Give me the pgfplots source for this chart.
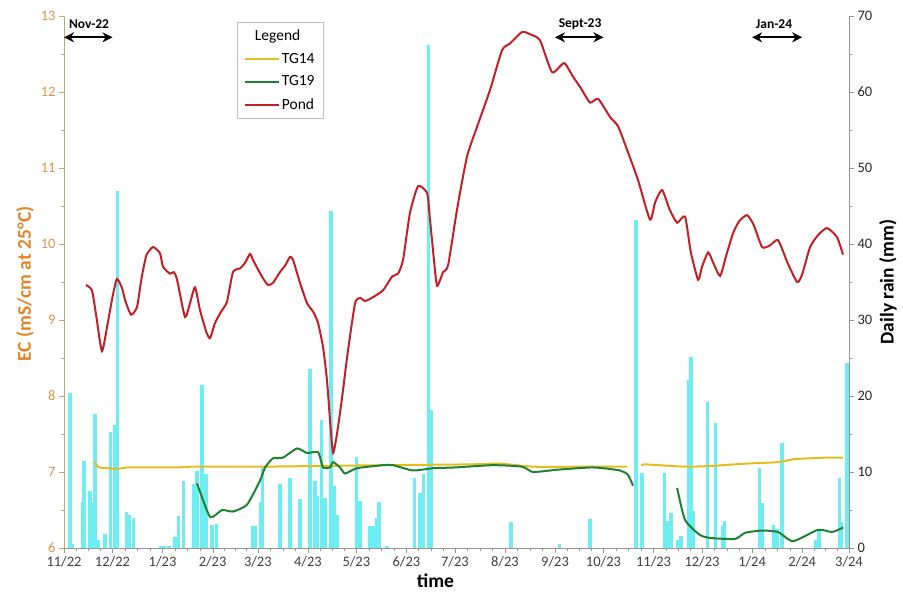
\documentclass[border=0pt]{standalone}
\usepackage{fontspec}
\setmainfont{Carlito}
\usepackage{pgfplots}
\pgfplotsset{compat=1.18}
\usetikzlibrary{arrows.meta}

\definecolor{rain}{RGB}{85,235,240}
\definecolor{tgyellow}{RGB}{228,190,30}
\definecolor{tggreen}{RGB}{30,130,50}
\definecolor{pondred}{RGB}{192,32,40}
\definecolor{ecorange}{RGB}{226,132,40}
\definecolor{ectick}{RGB}{214,148,80}
\definecolor{ecaxis}{RGB}{200,165,120}
\definecolor{axgray}{RGB}{150,150,150}

\pgfplotsset{
  common/.style={
    scale only axis, width=785pt, height=532pt,
    xmin=0, xmax=486,
    tick align=outside, major tick length=5pt, minor tick length=3pt,
    /pgf/number format/assume math mode=true,
    ticklabel style={font=\fontsize{14.5}{16}\selectfont},
    label style={font=\bfseries\fontsize{19.5}{22}\selectfont},
  },
}

\begin{document}
\begin{tikzpicture}
% daily rain, right axis
\begin{axis}[common,
  ymin=0, ymax=70,
  axis y line*=right, axis x line=none,
  ytick={0,10,...,70}, minor y tick num=1,
  y axis line style={draw=axgray},
  ytick style={draw=axgray},
  yticklabel style={text=black!85},
  ylabel={Daily rain (mm)},
]
\addplot[ycomb, mark=none, draw=rain, line width=3.5pt, opacity=0.85] coordinates {
(3.7,20.4)(5,0.5)(11.6,6.0)(12.4,11.4)(16.1,7.5)(18.1,6.0)(19.2,17.6)(21,1.0)
(25.4,1.8)(28.9,15.3)(31.6,16.2)(33.0,47.0)(38.8,4.7)(40.4,4.3)(42.9,3.9)
(60,0.2)(62,0.2)(65,0.2)(68.7,1.4)(70.8,4.2)(73.9,8.8)(80.1,8.4)(82.2,10.1)
(85.3,21.4)(87.9,9.7)(91.5,3.0)(94.5,3.1)(117,2.9)(118.5,2.9)(122,6.0)(123,10.7)
(133.7,8.4)(140,9.2)(146,6.4)(152.3,23.6)(155.4,8.8)(156.5,6.8)(159.3,16.8)
(161.6,6.6)(165.3,44.4)(167.4,8.1)(168.9,4.4)(181.2,12.0)(183.3,6.2)(189.5,2.9)
(191.5,2.9)(193.6,4.0)(195,6.0)(200,0.3)(216.9,9.2)(220.4,7.3)(222.5,9.7)
(225.6,66.2)(227.2,18.1)(276.8,3.4)(306.7,0.5)(325.7,3.8)(354,43.1)(357.7,9.9)
(371.7,9.9)(373.2,3.6)(375.9,4.6)(380,1.0)(382,1.6)(386.6,22.1)(388.2,25.1)
(389.7,4.9)(398.5,19.2)(403.5,16.4)(407.6,2.9)(408.9,3.6)(430.5,10.5)(432.4,5.9)
(439.2,3.0)(441.3,2.5)(444.4,13.8)(465.4,1.0)(467.5,2.5)(480.1,9.2)(481.5,3.4)
(484.8,24.4)
};
\end{axis}

% EC, left axis
\begin{axis}[common,
  ymin=6, ymax=13, clip=false,
  axis y line*=left, axis x line*=bottom,
  ytick={6,...,13}, minor y tick num=1,
  y axis line style={draw=ecaxis},
  ytick style={draw=ecaxis},
  yticklabel style={text=ectick},
  ylabel={EC (mS/cm at 25°C)},
  ylabel style={text=ecorange, xshift=-2pt},
  x axis line style={draw=axgray},
  xtick style={draw=axgray},
  xticklabel style={text=black!75},
  xtick={0,30,61,92,120,151,181,212,242,273,304,334,365,395,426,457,486},
  xticklabels={11/22,12/22,1/23,2/23,3/23,4/23,5/23,6/23,7/23,8/23,9/23,10/23,11/23,12/23,1/24,2/24,3/24},
  minor xtick={7.5,15,22.5,37.75,45.5,53.25,68.75,76.5,84.25,99,106,113,127.75,135.5,143.25,
    158.5,166,173.5,188.75,196.5,204.25,219.5,227,234.5,249.75,257.5,265.25,280.75,288.5,296.25,
    311.5,319,326.5,341.75,349.5,357.25,372.5,380,387.5,402.75,410.5,418.25,433.75,441.5,449.25,
    464.25,471.5,478.75},
  xlabel={time},
  xlabel style={text=black, xshift=-21pt},
  legend style={at={(0.22,0.989)}, anchor=north west, draw=black!25,
    font=\fontsize{15.5}{18}\selectfont, row sep=7pt, inner xsep=7pt, inner ysep=6pt,
    cells={anchor=west}},
  legend image code/.code={\draw[#1, line width=2pt] (0pt,0pt) -- (34pt,0pt);},
  every axis plot/.append style={line width=2pt, smooth, tension=0.35},
]
\addlegendimage{empty legend}
\addlegendentry{\hspace{-27pt}Legend}

\addplot[tgyellow, mark=none] coordinates {
(19.2,7.13)(21,7.07)(24,7.05)(27,7.05)(33,7.04)(39,7.06)(51,7.06)(70,7.06)(80,7.07)
(121,7.07)(160,7.08)(200,7.09)(250,7.10)(270,7.11)(290.4,7.07)(320,7.07)(348.6,7.07)
};
\addplot[tgyellow, mark=none, forget plot] coordinates {
(357.9,7.08)(359.8,7.10)(384.5,7.07)(401.2,7.08)(421.7,7.11)(442.1,7.13)(452.6,7.17)
(473.1,7.19)(482.4,7.19)
};
\addlegendentry{TG14}

\addplot[tggreen, mark=none] coordinates {
(82.4,6.85)(90.4,6.41)(97.8,6.50)(104.6,6.48)(113.3,6.57)(121.4,6.89)(124.5,7.06)
(129.4,7.18)(135.6,7.19)(144.3,7.31)(150.5,7.25)(157.3,7.26)(160.4,7.06)(164.7,7.06)
(166.6,7.13)(170.9,7.06)(174.0,6.98)(181.4,7.05)(197.5,7.09)(203.7,7.09)(216.1,7.02)
(228.5,7.05)(242.1,7.06)(265.6,7.09)(283.6,7.07)(290.4,7.00)(305.3,7.03)(327.6,7.06)
(344.3,7.02)(349.2,6.96)(352.3,6.82)
};
\addplot[tggreen, mark=none, forget plot] coordinates {
(379.6,6.79)(384.5,6.37)(393.8,6.17)(401.2,6.13)(415.5,6.12)(421.7,6.20)(432.2,6.23)
(442.1,6.21)(451.4,6.09)(466.9,6.24)(475.5,6.21)(482.4,6.27)
};
\addlegendentry{TG19}

\addplot[pondred, mark=none] coordinates {
(13.6,9.46)(17.3,9.39)(20,9.05)(23.5,8.59)(27,8.95)(30,9.30)(32.8,9.54)(35.9,9.42)
(38,9.25)(41.5,9.07)(45.2,9.17)(48,9.55)(51,9.85)(55.1,9.96)(59.4,9.88)(61.3,9.70)
(65.6,9.61)(68,9.63)(70.0,9.53)(74.9,9.04)(78.0,9.22)(81.1,9.43)(84.2,9.13)(88,8.85)
(90.4,8.76)(93.5,8.96)(97,9.10)(100.9,9.24)(104.6,9.63)(109.0,9.68)(112,9.75)
(115.2,9.87)(117.0,9.79)(122.6,9.57)(126.3,9.46)(129.4,9.49)(133.7,9.63)(137,9.72)
(139.9,9.83)(141.8,9.79)(146.1,9.49)(150.5,9.22)(154.2,9.11)(157.3,8.96)(160.4,8.64)
(162.8,8.21)(165,7.6)(166.6,7.25)(169,7.5)(172.1,7.97)(175.9,8.61)(180.2,9.22)
(183.3,9.29)(186.4,9.25)(191.3,9.30)(197.5,9.39)(203.1,9.57)(206.8,9.61)(209.9,9.79)
(214.2,10.41)(219.2,10.76)(224.8,10.67)(226.6,10.32)(229,9.8)(231.0,9.45)(234.7,9.63)
(237.8,9.72)(243.3,10.45)(249.5,11.15)(255.7,11.54)(263.8,12.03)(271.2,12.55)
(276.2,12.64)(283.6,12.79)(288.5,12.76)(294.7,12.68)(302.2,12.26)(309.6,12.38)
(315.2,12.20)(320,12.05)(325.7,11.86)(330.7,11.91)(338.1,11.67)(343,11.55)(348.6,11.24)
(355.4,10.84)(362.8,10.32)(366,10.55)(370.3,10.71)(375,10.45)(379.6,10.28)(384.5,10.36)
(388,9.9)(392.6,9.53)(395,9.7)(398.8,9.89)(402,9.75)(406.2,9.58)(410,9.85)(414.2,10.14)
(418,10.3)(422.9,10.38)(427,10.25)(432.2,9.96)(437,9.98)(442.1,10.05)(448,9.75)
(453.9,9.50)(457,9.6)(461.9,9.96)(467,10.12)(472.4,10.21)(478.6,10.09)(482.3,9.86)
};
\addlegendentry{Pond}

% period markers
\draw[{Stealth[length=10pt,width=10pt]}-{Stealth[length=10pt,width=10pt]}, line width=2pt]
  (axis cs:0,12.72) -- (axis cs:30,12.72);
\draw[{Stealth[length=10pt,width=10pt]}-{Stealth[length=10pt,width=10pt]}, line width=2pt]
  (axis cs:304,12.72) -- (axis cs:334,12.72);
\draw[{Stealth[length=10pt,width=10pt]}-{Stealth[length=10pt,width=10pt]}, line width=2pt]
  (axis cs:426,12.72) -- (axis cs:457,12.72);
\node[font=\bfseries\fontsize{13.5}{15}\selectfont] at (axis cs:15.5,12.89) {Nov-22};
\node[font=\bfseries\fontsize{13.5}{15}\selectfont] at (axis cs:319.5,12.89) {Sept-23};
\node[font=\bfseries\fontsize{13.5}{15}\selectfont] at (axis cs:439.6,12.89) {Jan-24};
\end{axis}
\pgfresetboundingbox
\useasboundingbox (-64pt,-58pt) rectangle (839pt,548pt);
\end{tikzpicture}
\end{document}
